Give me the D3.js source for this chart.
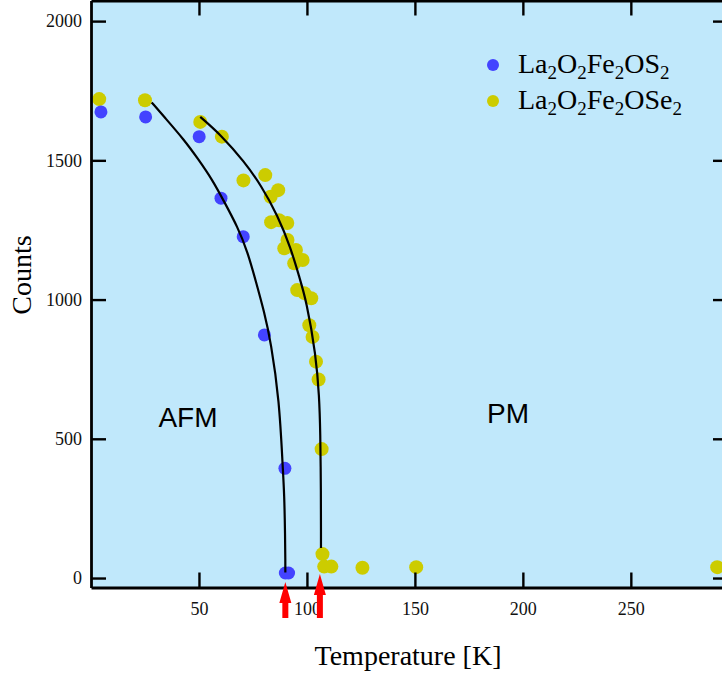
<!DOCTYPE html>
<html>
<head>
<meta charset="utf-8">
<script src="https://cdn.jsdelivr.net/npm/d3@7"></script>
<style>
  body { margin: 0; background: #fff; }
  .axis path, .axis line { stroke: #000; }
  .axis text { font-family: "Liberation Serif", "Times New Roman", serif; font-size: 18px; fill: #111; }
</style>
</head>
<body>
<script>
// tick values
var tempTicks  = [50, 100, 150, 200, 250],
    countTicks = [0, 500, 1000, 1500, 2000];

// measured points, La2O2Fe2OS2
var sTemps  = [4.6, 25.3, 50.1, 60.2, 70.5, 80.3, 89.8, 90, 91.5],
    sCounts = [1674, 1656, 1585, 1364, 1226, 873, 394, 18, 18];

// measured points, La2O2Fe2OSe2
var seTemps  = [3.8, 25, 50.6, 60.6, 70.6, 80.7, 86.7, 83.2, 83.4, 87.1, 90.9, 91, 89.5, 94.9, 94.1, 98,
                95.5, 98.8, 102, 101.1, 102.6, 104.2, 105.4, 106.8, 107.2, 108, 111.3, 125.7, 150.6, 290],
    seCounts = [1720, 1716, 1638, 1585, 1428, 1447, 1393, 1369, 1278, 1285, 1275, 1214, 1184, 1178, 1130, 1142,
                1034, 1023, 1005, 908, 866, 777, 713, 463, 86, 41, 41, 37, 39, 39];

// fit curves
var sFitTemps   = [28.1, 33.9, 43.2, 49.4, 56.3, 61.7, 67.9, 72.5, 76.4, 80.2, 83.3, 87.2, 88.8, 89.5, 89.9, 90, 90],
    sFitCounts  = [1708, 1656, 1573, 1507, 1429, 1351, 1261, 1172, 1064, 956, 848, 639, 395, 305, 150, 60, 20],
    seFitTemps  = [50.6, 60.2, 71, 78.7, 86.4, 92.6, 96.4, 99.7, 104.2, 105.7, 106.2, 106.5, 106.5, 106.5],
    seFitCounts = [1656, 1591, 1495, 1411, 1303, 1184, 1082, 998, 800, 650, 531, 300, 150, 108];

// transition temperatures marked with arrows
var transitionTemps = [90, 106];

var seriesNames  = ['S', 'Se'],
    seriesColors = ['#4343ff', '#cccc00'];

function zip (ts, cs) {
  return ts.map(function (t, i) { return { t: t, c: cs[i] }; });
}

function makeChart () {
  var svgWidth = 722, svgHeight = 675,
      left = 91, right = 728, top = 0.5, bottom = 587.5;

  var x = d3.scaleLinear().domain([0, 295]).range([left, right]);
  var y = d3.scaleLinear().domain([-34, 2074]).range([bottom, top]);

  var svg = d3.select('body').append('svg')
    .attr('width', svgWidth)
    .attr('height', svgHeight);

  svg.append('rect')
    .attr('x', left).attr('y', top)
    .attr('width', right - left).attr('height', bottom - top)
    .attr('fill', '#c0e8fb');

  // points
  var sets = [zip(seTemps, seCounts), zip(sTemps, sCounts)],
      colors = [seriesColors[1], seriesColors[0]],
      radii = [7, 6.5];
  sets.forEach(function (data, i) {
    svg.append('g').selectAll('circle')
      .data(data)
      .enter().append('circle')
        .attr('cx', function (d) { return x(d.t); })
        .attr('cy', function (d) { return y(d.c); })
        .attr('r', radii[i])
        .attr('fill', colors[i]);
  });

  // fits
  var fitLine = d3.line()
    .x(function (d) { return x(d.t); })
    .y(function (d) { return y(d.c); })
    .curve(d3.curveBasis);

  [zip(sFitTemps, sFitCounts), zip(seFitTemps, seFitCounts)].forEach(function (data) {
    svg.append('path')
      .datum(data)
      .attr('d', fitLine)
      .attr('fill', 'none')
      .attr('stroke', '#000')
      .attr('stroke-width', 2.2);
  });

  // axes
  var axisBottom = d3.axisBottom(x).tickValues(tempTicks).tickSizeInner(-15).tickSizeOuter(0).tickPadding(15).tickFormat(d3.format('d')),
      axisTop    = d3.axisTop(x).tickValues(tempTicks).tickSizeInner(-15).tickSizeOuter(0).tickFormat(''),
      axisLeft   = d3.axisLeft(y).tickValues(countTicks).tickSizeInner(-15).tickSizeOuter(0).tickPadding(9).tickFormat(d3.format('d')),
      axisRight  = d3.axisRight(y).tickValues(countTicks).tickSizeInner(-15).tickSizeOuter(0).tickFormat('');

  svg.append('g').attr('class', 'axis').attr('transform', 'translate(0,' + bottom + ')').call(axisBottom);
  svg.append('g').attr('class', 'axis').attr('transform', 'translate(0,' + top + ')').call(axisTop);
  svg.append('g').attr('class', 'axis').attr('transform', 'translate(' + left + ',0)').call(axisLeft);
  svg.append('g').attr('class', 'axis').attr('transform', 'translate(' + right + ',0)').call(axisRight);

  svg.selectAll('.axis path').attr('stroke-width', 2.8);
  svg.selectAll('.axis line').attr('stroke-width', 2.4);

  // arrows at the transitions
  var tipY = [582, 574];
  transitionTemps.forEach(function (t, i) {
    var cx = x(t), ty = tipY[i];
    svg.append('path')
      .attr('d', 'M' + cx + ',' + ty + 'L' + (cx + 6) + ',' + (ty + 21) + 'L' + (cx + 3) + ',' + (ty + 21) +
                 'L' + (cx + 3) + ',618L' + (cx - 3) + ',618L' + (cx - 3) + ',' + (ty + 21) +
                 'L' + (cx - 6) + ',' + (ty + 21) + 'Z')
      .attr('fill', '#ff0000');
  });

  // phase labels
  svg.append('text').attr('x', 188).attr('y', 427)
    .attr('text-anchor', 'middle')
    .style('font-family', '"Liberation Sans", Arial, sans-serif').style('font-size', '28px')
    .text('AFM');
  svg.append('text').attr('x', 508).attr('y', 423)
    .attr('text-anchor', 'middle')
    .style('font-family', '"Liberation Sans", Arial, sans-serif').style('font-size', '28px')
    .text('PM');

  // axis titles
  svg.append('text').attr('x', 408).attr('y', 665)
    .attr('text-anchor', 'middle')
    .style('font-family', '"Liberation Serif", "Times New Roman", serif').style('font-size', '28px')
    .text('Temperature [K]');
  svg.append('text')
    .attr('transform', 'translate(31,275) rotate(-90)')
    .attr('text-anchor', 'middle')
    .style('font-family', '"Liberation Serif", "Times New Roman", serif').style('font-size', '28px')
    .text('Counts');

  // legend
  var legend = svg.append('g').attr('transform', 'translate(493,65)');
  seriesNames.forEach(function (name, i) {
    var row = legend.append('g').attr('transform', 'translate(0,' + (i * 36) + ')');
    row.append('circle').attr('r', 6).attr('fill', seriesColors[i]);
    var txt = row.append('text').attr('x', 25).attr('y', 8)
      .style('font-family', '"Liberation Serif", "Times New Roman", serif').style('font-size', '28px');
    var parts = [['La', '2'], ['O', '2'], ['Fe', '2'], ['O' + name, '2']];
    parts.forEach(function (p, j) {
      txt.append('tspan').attr('dy', j === 0 ? 0 : -6).text(p[0]);
      txt.append('tspan').attr('dy', 6).style('font-size', '19px').text(p[1]);
    });
  });
}

makeChart();
</script>
</body>
</html>
